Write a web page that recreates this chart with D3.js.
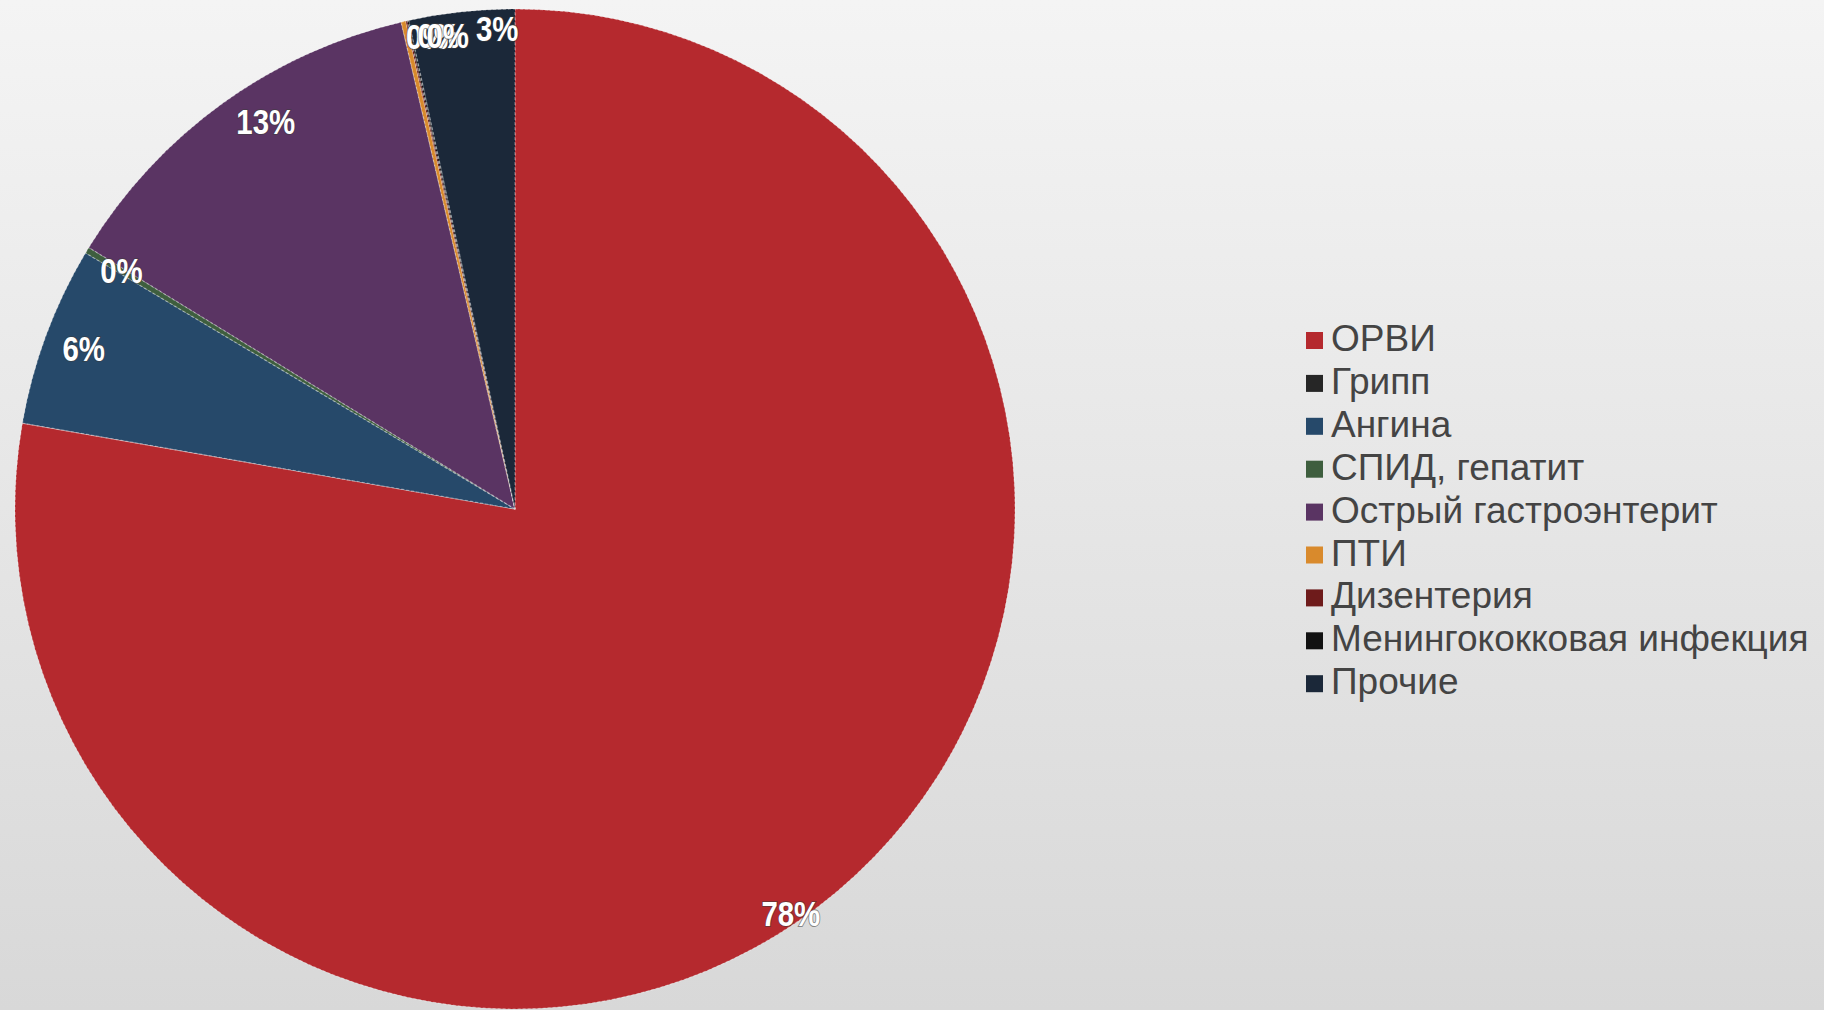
<!DOCTYPE html>
<html>
<head>
<meta charset="utf-8">
<script src="https://cdn.jsdelivr.net/npm/d3@7"></script>
<style>
  html, body { margin: 0; padding: 0; width: 1824px; height: 1010px; overflow: hidden; }
  svg { display: block; }
</style>
</head>
<body>
<svg id="chart" width="1824" height="1010"></svg>
<script>
// ---- data ----
const categories = ["ОРВИ", "Грипп", "Ангина", "СПИД, гепатит", "Острый гастроэнтерит", "ПТИ", "Дизентерия", "Менингококковая инфекция", "Прочие"];
const values = [77.6, 0, 5.8, 0.2, 12.56, 0.15, 0.05, 0.05, 3.4];
const colors = ["#b5292e", "#262626", "#26496a", "#3e5e3e", "#5a3463", "#d98a2c", "#6e1b1b", "#121212", "#1b2839"];

// ---- layout ----
const W = 1824, H = 1010;
const cx = 515, cy = 509, R = 500;
const svg = d3.select("#chart");

const defs = svg.append("defs");
const bg = defs.append("linearGradient").attr("id", "bg").attr("x1", 0).attr("y1", 0).attr("x2", 0).attr("y2", 1);
bg.append("stop").attr("offset", "0%").attr("stop-color", "#f4f4f4");
bg.append("stop").attr("offset", "100%").attr("stop-color", "#d8d8d8");
svg.append("rect").attr("width", W).attr("height", H).attr("fill", "url(#bg)");

const data = categories.map((c, i) => ({ name: c, value: values[i], color: colors[i] }));
const total = d3.sum(values);

const pie = d3.pie().value(d => d.value).sort(null);
const arcs = pie(data);
const arc = d3.arc().innerRadius(0).outerRadius(R);

const g = svg.append("g").attr("transform", `translate(${cx},${cy})`);
g.selectAll("path.slice")
  .data(arcs)
  .join("path")
  .attr("class", "slice")
  .attr("d", arc)
  .attr("fill", d => d.data.color)
  .attr("stroke", "rgba(255,255,255,0.35)")
  .attr("stroke-width", 1.2)
  .attr("stroke-dasharray", "3,2");

// label placement (Excel "best fit"-like adjustments, in degrees / radius fraction)
const labelAdjust = {
  "ОРВИ": { dAngle: 5.8, rf: 0.98 },
  "Острый гастроэнтерит": { dAngle: 3.0, rf: 0.92 },
  "Прочие": { dAngle: 4.0, rf: 0.96 },
  "ПТИ": { dAngle: 4.0, rf: 0.955, dx: -14 },
  "Дизентерия": { dAngle: 4.3, rf: 0.955, dx: -8 },
  "Менингококковая инфекция": { dAngle: 4.5, rf: 0.955, dx: -2 }
};

const labels = g.append("g");
arcs.filter(d => d.data.value > 0).forEach(d => {
  const adj = labelAdjust[d.data.name] || {};
  const mid = (d.startAngle + d.endAngle) / 2 + (adj.dAngle || 0) * Math.PI / 180;
  const r = R * (adj.rf || 0.92);
  const x = Math.sin(mid) * r + (adj.dx || 0);
  const y = -Math.cos(mid) * r;
  labels.append("text")
    .attr("transform", `translate(${x},${y}) scale(0.84,1)`)
    .attr("text-anchor", "middle")
    .attr("dominant-baseline", "central")
    .attr("font-family", "'Liberation Sans', Arial, sans-serif")
    .attr("font-weight", "bold")
    .attr("font-size", 35)
    .attr("fill", "#ffffff")
    .attr("stroke", "rgba(60,60,60,0.55)")
    .attr("stroke-width", 2)
    .attr("paint-order", "stroke")
    .text(d3.format(".0%")(d.data.value / total));
});

// ---- legend ----
const lx = 1306, ly0 = 351, lstep = 42.9;
const legend = svg.append("g");
data.forEach((d, i) => {
  const y = ly0 + i * lstep;
  legend.append("rect")
    .attr("x", lx).attr("y", y - 19)
    .attr("width", 17).attr("height", 17)
    .attr("fill", d.color);
  legend.append("text")
    .attr("x", lx + 25).attr("y", y)
    .attr("font-family", "'Liberation Sans', Arial, sans-serif")
    .attr("font-size", 37)
    .attr("fill", "#444444")
    .text(d.name);
});
</script>
</body>
</html>
